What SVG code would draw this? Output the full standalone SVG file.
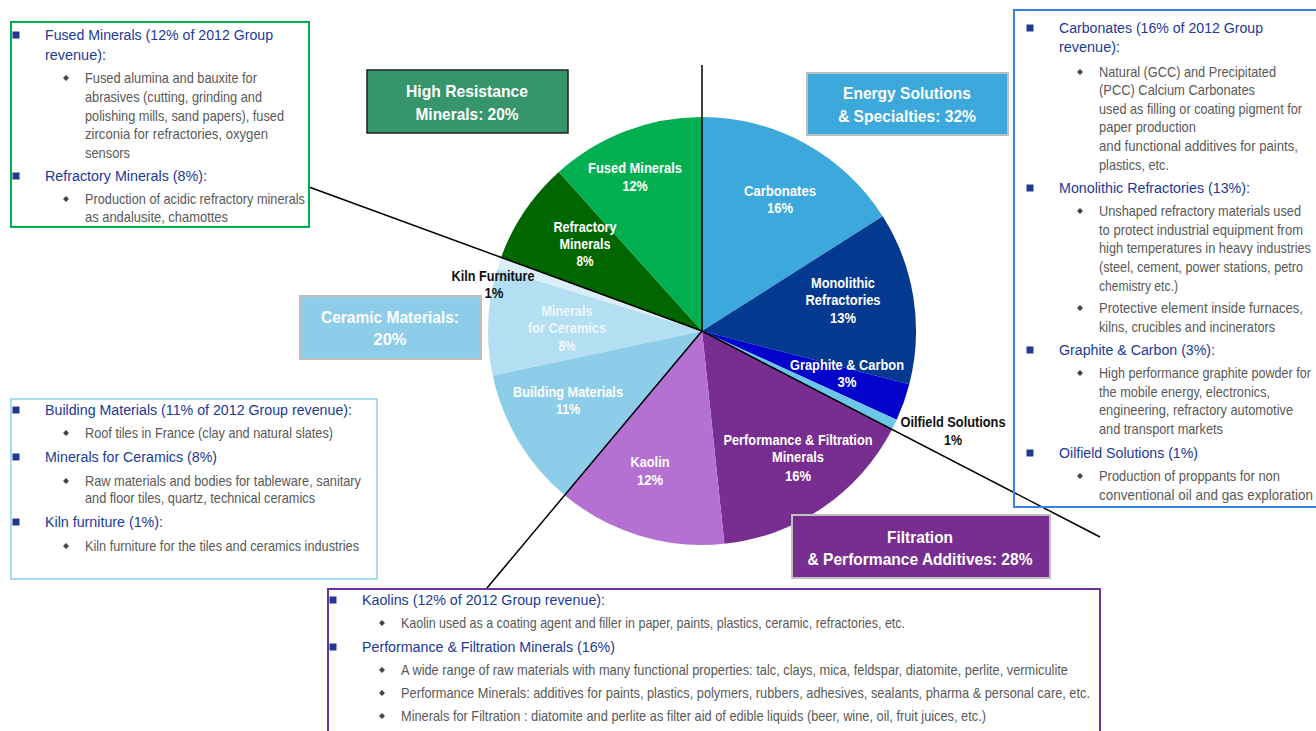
<svg xmlns="http://www.w3.org/2000/svg" width="1316" height="731" viewBox="0 0 1316 731">
<style>
text{font-family:'Liberation Sans Narrow','Arial Narrow','Liberation Sans',Arial,sans-serif}
.h{font-size:15.5px;fill:#20399A}
.b{font-size:14.5px;fill:#595959}
.pl{font-size:14px;font-weight:bold;fill:#fff;text-anchor:middle}
.pk{font-size:14px;font-weight:bold;fill:#111;text-anchor:middle}
.hd{font-size:17px;font-weight:bold;fill:#fff;text-anchor:middle}
.conn{stroke:#000;stroke-width:1.5;fill:none}
.sq{fill:#1F3A8F}
.dm{fill:#444}
</style>
<defs>
<rect id="sq" class="sq" x="-3.5" y="-3.5" width="7" height="7"/>
<polygon id="dm" class="dm" points="0,-3 3,0 0,3 -3,0"/>
</defs>
<rect width="1316" height="731" fill="#fff"/>

<g id="pie">
<path d="M702,331 L702,117 A214,214 0 0 1 882.7,216.3 Z" fill="#3CA8DB"/>
<path d="M702,331 L882.7,216.3 A214,214 0 0 1 909.3,384.2 Z" fill="#03398F"/>
<path d="M702,331 L909.3,384.2 A214,214 0 0 1 896.7,419.7 Z" fill="#0303CC"/>
<path d="M702,331 L896.7,419.7 A214,214 0 0 1 892.0,429.5 Z" fill="#6CC6EA"/>
<path d="M702,331 L892.0,429.5 A214,214 0 0 1 724.4,543.8 Z" fill="#782D91"/>
<path d="M702,331 L724.4,543.8 A214,214 0 0 1 564.7,495.2 Z" fill="#B471D2"/>
<path d="M702,331 L564.7,495.2 A214,214 0 0 1 492.7,375.5 Z" fill="#8ECDEA"/>
<path d="M702,331 L492.7,375.5 A214,214 0 0 1 497.4,268.4 Z" fill="#B4DEF1"/>
<path d="M702,331 L497.4,268.4 A214,214 0 0 1 501.0,257.4 Z" fill="#DAEEF8"/>
<path d="M702,331 L501.0,257.4 A214,214 0 0 1 558.8,172.0 Z" fill="#006600"/>
<path d="M702,331 L558.8,172.0 A214,214 0 0 1 702,117 Z" fill="#00B050"/>
</g>

<g id="connectors">
<line class="conn" x1="702" y1="65" x2="702" y2="331"/>
<line class="conn" x1="309" y1="187" x2="702" y2="331"/>
<line class="conn" x1="702" y1="331" x2="487" y2="588"/>
<line class="conn" x1="702" y1="331" x2="1100" y2="537"/>
</g>

<g id="pie-labels">
<text class="pl" x="635" y="173" textLength="94" lengthAdjust="spacingAndGlyphs">Fused Minerals</text>
<text class="pl" x="635" y="191" textLength="25" lengthAdjust="spacingAndGlyphs">12%</text>
<text class="pl" x="585" y="232" textLength="63" lengthAdjust="spacingAndGlyphs">Refractory</text>
<text class="pl" x="585" y="249" textLength="51" lengthAdjust="spacingAndGlyphs">Minerals</text>
<text class="pl" x="585" y="266" textLength="17" lengthAdjust="spacingAndGlyphs">8%</text>
<text class="pk" x="493" y="281" textLength="83" lengthAdjust="spacingAndGlyphs">Kiln Furniture</text>
<text class="pk" x="494" y="298" textLength="19" lengthAdjust="spacingAndGlyphs">1%</text>
<text class="pl" x="567" y="316" fill-opacity="0.8" textLength="51" lengthAdjust="spacingAndGlyphs">Minerals</text>
<text class="pl" x="567" y="333" fill-opacity="0.8" textLength="78" lengthAdjust="spacingAndGlyphs">for Ceramics</text>
<text class="pl" x="567" y="351" fill-opacity="0.8" textLength="17" lengthAdjust="spacingAndGlyphs">8%</text>
<text class="pl" x="568" y="397" textLength="110" lengthAdjust="spacingAndGlyphs">Building Materials</text>
<text class="pl" x="568" y="414" textLength="24" lengthAdjust="spacingAndGlyphs">11%</text>
<text class="pl" x="650" y="467" textLength="39" lengthAdjust="spacingAndGlyphs">Kaolin</text>
<text class="pl" x="650" y="485" textLength="26" lengthAdjust="spacingAndGlyphs">12%</text>
<text class="pl" x="798" y="445" textLength="149" lengthAdjust="spacingAndGlyphs">Performance &amp; Filtration</text>
<text class="pl" x="798" y="462" textLength="52" lengthAdjust="spacingAndGlyphs">Minerals</text>
<text class="pl" x="798" y="481" textLength="26" lengthAdjust="spacingAndGlyphs">16%</text>
<text class="pl" x="847" y="370" textLength="114" lengthAdjust="spacingAndGlyphs">Graphite &amp; Carbon</text>
<text class="pl" x="847" y="387" textLength="19" lengthAdjust="spacingAndGlyphs">3%</text>
<text class="pk" x="953" y="427" textLength="105" lengthAdjust="spacingAndGlyphs">Oilfield Solutions</text>
<text class="pk" x="953" y="445" textLength="18" lengthAdjust="spacingAndGlyphs">1%</text>
<text class="pl" x="780" y="196" textLength="72" lengthAdjust="spacingAndGlyphs">Carbonates</text>
<text class="pl" x="780" y="213" textLength="26" lengthAdjust="spacingAndGlyphs">16%</text>
<text class="pl" x="843" y="288" textLength="64" lengthAdjust="spacingAndGlyphs">Monolithic</text>
<text class="pl" x="843" y="305" textLength="75" lengthAdjust="spacingAndGlyphs">Refractories</text>
<text class="pl" x="843" y="323" textLength="26" lengthAdjust="spacingAndGlyphs">13%</text>
</g>

<g id="high-resistance">
<rect x="367" y="70" width="201" height="63" fill="#36956A" stroke="#222" stroke-width="1.5"/>
<text class="hd" x="467" y="97" textLength="122" lengthAdjust="spacingAndGlyphs">High Resistance</text>
<text class="hd" x="467" y="120" textLength="103" lengthAdjust="spacingAndGlyphs">Minerals: 20%</text>
</g>
<g id="energy-solutions">
<rect x="807" y="73" width="201" height="62" fill="#3CA8DB" stroke="#BFBFBF" stroke-width="2"/>
<text class="hd" x="907" y="99" textLength="128" lengthAdjust="spacingAndGlyphs">Energy Solutions</text>
<text class="hd" x="907" y="122" textLength="138" lengthAdjust="spacingAndGlyphs">&amp; Specialties: 32%</text>
</g>
<g id="ceramic-materials">
<rect x="300" y="296" width="181" height="63" fill="#8ECDEA" stroke="#BFBFBF" stroke-width="2"/>
<text class="hd" x="390" y="323" textLength="138" lengthAdjust="spacingAndGlyphs">Ceramic Materials:</text>
<text class="hd" x="390" y="345" textLength="33" lengthAdjust="spacingAndGlyphs">20%</text>
</g>
<g id="filtration">
<rect x="792" y="515" width="258" height="63" fill="#782D91" stroke="#BFBFBF" stroke-width="2"/>
<text class="hd" x="920" y="543" textLength="66" lengthAdjust="spacingAndGlyphs">Filtration</text>
<text class="hd" x="920" y="565" textLength="225" lengthAdjust="spacingAndGlyphs">&amp; Performance Additives: 28%</text>
</g>

<g id="box-high-resistance">
<rect x="11" y="22" width="298" height="205" fill="none" stroke="#00B050" stroke-width="2"/>
<use href="#sq" x="16" y="35"/>
<text class="h" x="45" y="40" textLength="228" lengthAdjust="spacingAndGlyphs">Fused Minerals (12% of 2012 Group</text>
<text class="h" x="45" y="60" textLength="61" lengthAdjust="spacingAndGlyphs">revenue):</text>
<use href="#dm" x="66" y="78"/>
<text class="b" x="85" y="83" textLength="172" lengthAdjust="spacingAndGlyphs">Fused alumina and bauxite for</text>
<text class="b" x="85" y="102" textLength="177" lengthAdjust="spacingAndGlyphs">abrasives (cutting, grinding and</text>
<text class="b" x="85" y="121" textLength="199" lengthAdjust="spacingAndGlyphs">polishing mills, sand papers), fused</text>
<text class="b" x="85" y="139" textLength="183" lengthAdjust="spacingAndGlyphs">zirconia  for refractories, oxygen</text>
<text class="b" x="85" y="158" textLength="45" lengthAdjust="spacingAndGlyphs">sensors</text>
<use href="#sq" x="16" y="176"/>
<text class="h" x="45" y="181" textLength="162" lengthAdjust="spacingAndGlyphs">Refractory Minerals (8%):</text>
<use href="#dm" x="66" y="199"/>
<text class="b" x="85" y="204" textLength="220" lengthAdjust="spacingAndGlyphs">Production of acidic refractory minerals</text>
<text class="b" x="85" y="222" textLength="143" lengthAdjust="spacingAndGlyphs">as andalusite, chamottes</text>
</g>

<g id="box-energy">
<rect x="1014" y="10" width="310" height="497" fill="none" stroke="#3B80E6" stroke-width="2"/>
<use href="#sq" x="1030" y="28"/>
<text class="h" x="1059" y="33" textLength="204" lengthAdjust="spacingAndGlyphs">Carbonates (16% of 2012 Group</text>
<text class="h" x="1059" y="52" textLength="61" lengthAdjust="spacingAndGlyphs">revenue):</text>
<use href="#dm" x="1080" y="72"/>
<text class="b" x="1099" y="77" textLength="177" lengthAdjust="spacingAndGlyphs">Natural (GCC) and Precipitated</text>
<text class="b" x="1099" y="95" textLength="156" lengthAdjust="spacingAndGlyphs">(PCC) Calcium Carbonates</text>
<text class="b" x="1099" y="114" textLength="203" lengthAdjust="spacingAndGlyphs">used as filling  or coating pigment for</text>
<text class="b" x="1099" y="132" textLength="97" lengthAdjust="spacingAndGlyphs">paper production</text>
<text class="b" x="1099" y="151" textLength="199" lengthAdjust="spacingAndGlyphs">and functional additives for paints,</text>
<text class="b" x="1099" y="170" textLength="70" lengthAdjust="spacingAndGlyphs">plastics, etc.</text>
<use href="#sq" x="1030" y="188"/>
<text class="h" x="1059" y="193" textLength="191" lengthAdjust="spacingAndGlyphs">Monolithic Refractories (13%):</text>
<use href="#dm" x="1080" y="211"/>
<text class="b" x="1099" y="216" textLength="202" lengthAdjust="spacingAndGlyphs">Unshaped refractory materials used</text>
<text class="b" x="1099" y="235" textLength="204" lengthAdjust="spacingAndGlyphs">to protect industrial equipment from</text>
<text class="b" x="1099" y="253" textLength="212" lengthAdjust="spacingAndGlyphs">high temperatures in heavy industries</text>
<text class="b" x="1099" y="272" textLength="204" lengthAdjust="spacingAndGlyphs">(steel, cement, power stations, petro</text>
<text class="b" x="1099" y="291" textLength="79" lengthAdjust="spacingAndGlyphs">chemistry etc.)</text>
<use href="#dm" x="1080" y="308"/>
<text class="b" x="1099" y="313" textLength="204" lengthAdjust="spacingAndGlyphs">Protective element inside furnaces,</text>
<text class="b" x="1099" y="332" textLength="176" lengthAdjust="spacingAndGlyphs">kilns, crucibles and incinerators</text>
<use href="#sq" x="1030" y="350"/>
<text class="h" x="1059" y="355" textLength="156" lengthAdjust="spacingAndGlyphs">Graphite &amp; Carbon (3%):</text>
<use href="#dm" x="1080" y="373"/>
<text class="b" x="1099" y="378" textLength="212" lengthAdjust="spacingAndGlyphs">High performance graphite powder for</text>
<text class="b" x="1099" y="397" textLength="171" lengthAdjust="spacingAndGlyphs">the mobile energy, electronics,</text>
<text class="b" x="1099" y="415" textLength="194" lengthAdjust="spacingAndGlyphs">engineering, refractory automotive</text>
<text class="b" x="1099" y="434" textLength="124" lengthAdjust="spacingAndGlyphs">and transport markets</text>
<use href="#sq" x="1030" y="453"/>
<text class="h" x="1059" y="458" textLength="139" lengthAdjust="spacingAndGlyphs">Oilfield Solutions (1%)</text>
<use href="#dm" x="1080" y="476"/>
<text class="b" x="1099" y="481" textLength="181" lengthAdjust="spacingAndGlyphs">Production of proppants for non</text>
<text class="b" x="1099" y="500" textLength="214" lengthAdjust="spacingAndGlyphs">conventional oil and gas exploration</text>
</g>

<g id="box-ceramic">
<rect x="11" y="399" width="366" height="180" fill="none" stroke="#A6DCF0" stroke-width="2"/>
<use href="#sq" x="16" y="410"/>
<text class="h" x="45" y="415" textLength="307" lengthAdjust="spacingAndGlyphs">Building Materials (11% of 2012 Group revenue):</text>
<use href="#dm" x="66" y="433"/>
<text class="b" x="85" y="438" textLength="248" lengthAdjust="spacingAndGlyphs">Roof tiles in France (clay and natural slates)</text>
<use href="#sq" x="16" y="457"/>
<text class="h" x="45" y="462" textLength="172" lengthAdjust="spacingAndGlyphs">Minerals for Ceramics (8%)</text>
<use href="#dm" x="66" y="481"/>
<text class="b" x="85" y="486" textLength="276" lengthAdjust="spacingAndGlyphs">Raw materials and bodies for tableware, sanitary</text>
<text class="b" x="85" y="503" textLength="230" lengthAdjust="spacingAndGlyphs">and floor tiles, quartz, technical ceramics</text>
<use href="#sq" x="16" y="522"/>
<text class="h" x="45" y="527" textLength="118" lengthAdjust="spacingAndGlyphs">Kiln furniture (1%):</text>
<use href="#dm" x="66" y="546"/>
<text class="b" x="85" y="551" textLength="274" lengthAdjust="spacingAndGlyphs">Kiln furniture for the tiles and ceramics industries</text>
</g>

<g id="box-filtration">
<rect x="328" y="589" width="772" height="150" fill="none" stroke="#7030A0" stroke-width="2"/>
<use href="#sq" x="333" y="600"/>
<text class="h" x="362" y="605" textLength="243" lengthAdjust="spacingAndGlyphs">Kaolins (12% of 2012 Group revenue):</text>
<use href="#dm" x="382" y="623"/>
<text class="b" x="401" y="628" textLength="504" lengthAdjust="spacingAndGlyphs">Kaolin used as a coating agent and filler in paper, paints, plastics, ceramic, refractories, etc.</text>
<use href="#sq" x="333" y="647"/>
<text class="h" x="362" y="652" textLength="253" lengthAdjust="spacingAndGlyphs">Performance &amp; Filtration Minerals (16%)</text>
<use href="#dm" x="382" y="670"/>
<text class="b" x="401" y="675" textLength="667" lengthAdjust="spacingAndGlyphs">A wide range of raw materials with many functional properties: talc, clays, mica, feldspar, diatomite, perlite, vermiculite</text>
<use href="#dm" x="382" y="693"/>
<text class="b" x="401" y="698" textLength="689" lengthAdjust="spacingAndGlyphs">Performance Minerals: additives for paints, plastics, polymers, rubbers, adhesives, sealants, pharma &amp; personal care, etc.</text>
<use href="#dm" x="382" y="716"/>
<text class="b" x="401" y="721" textLength="585" lengthAdjust="spacingAndGlyphs">Minerals for Filtration : diatomite and perlite as filter aid of edible liquids (beer, wine, oil, fruit juices, etc.)</text>
</g>
</svg>
